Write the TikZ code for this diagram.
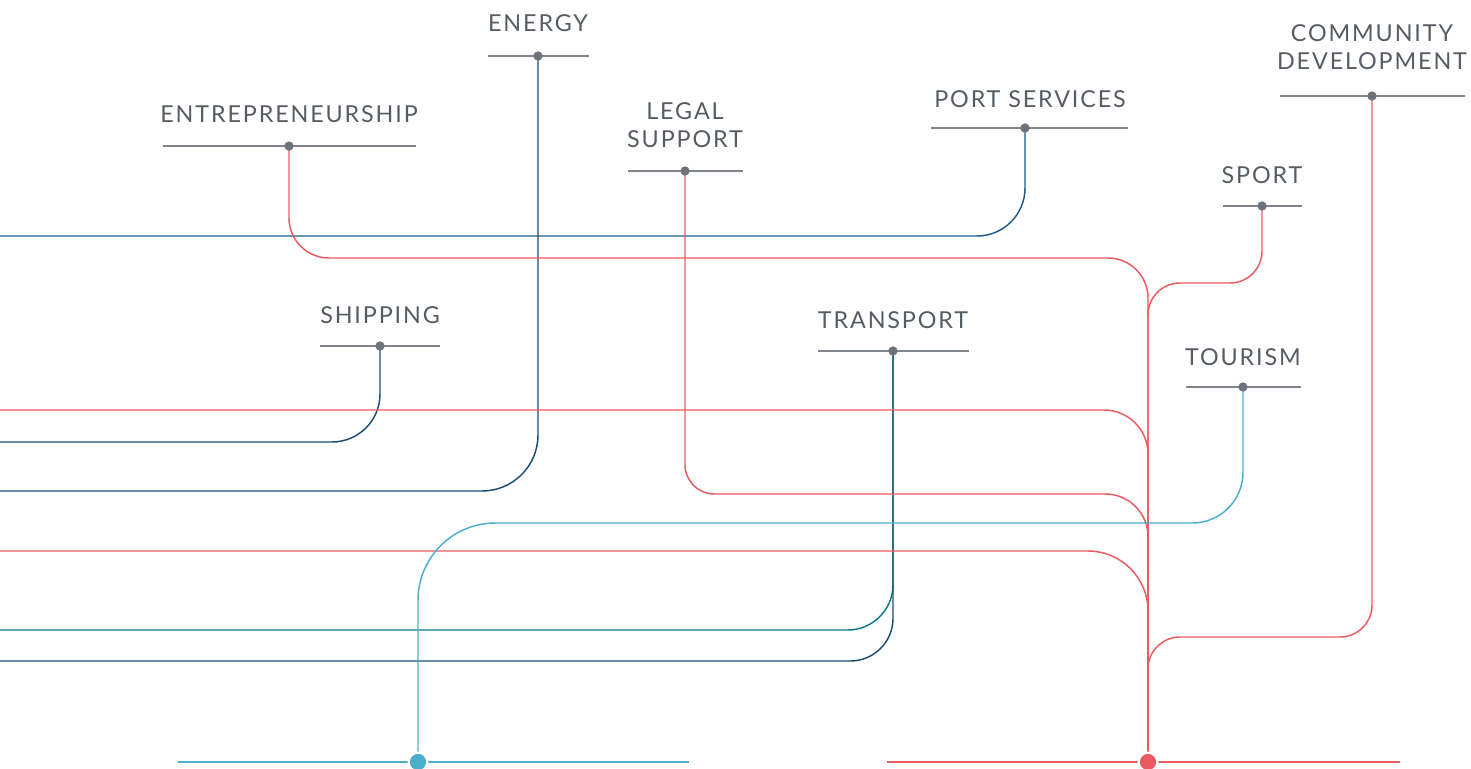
\documentclass[tikz,border=0pt]{standalone}
\usepackage{fontspec}
\setmainfont{Lato}[LetterSpace=8]
\definecolor{cred}{HTML}{EC5A61}
\definecolor{cnavy}{HTML}{1B4D75}
\definecolor{cblue}{HTML}{1C5C8C}
\definecolor{cteal}{HTML}{0F7B8F}
\definecolor{clight}{HTML}{4BAFCB}
\definecolor{ctext}{HTML}{575C64}
\definecolor{cgrey}{HTML}{80858C}
\definecolor{cdot}{HTML}{6C737B}
\begin{document}
\begin{tikzpicture}[x=0.75pt,y=-0.75pt,
  lbl/.style={anchor=south,inner sep=0pt,font=\fontsize{17.5}{21}\selectfont,text=ctext,align=center},
  uline/.style={draw=cgrey,line width=0.8pt},
  sdot/.style={circle,fill=cdot,inner sep=0pt,minimum size=7pt},
  bdot/.style={circle,draw=white,line width=1.6pt,inner sep=0pt,minimum size=14pt},
  conn/.style={line width=1.1pt}]
\useasboundingbox (0,0) rectangle (1471,768);
% labels
\node[lbl] (entre) at (289,123) {ENTREPRENEURSHIP};
\node[lbl] (energy) at (538,32) {ENERGY};
\node[lbl] (legal) at (685,148) {LEGAL\\SUPPORT};
\node[lbl] (port) at (1030,108) {PORT SERVICES};
\node[lbl] (comm) at (1372,70) {COMMUNITY\\DEVELOPMENT};
\node[lbl] (sport) at (1262,184) {SPORT};
\node[lbl] (ship) at (380,324) {SHIPPING};
\node[lbl] (trans) at (893,329) {TRANSPORT};
\node[lbl] (tour) at (1243,366) {TOURISM};
% dot coordinates
\coordinate (dEntre) at (289,146);
\coordinate (dEnergy) at (538,56);
\coordinate (dLegal) at (685,171);
\coordinate (dPort) at (1025,128);
\coordinate (dComm) at (1372,96);
\coordinate (dSport) at (1262,206);
\coordinate (dShip) at (380,346);
\coordinate (dTrans) at (893,351);
\coordinate (dTour) at (1243,387);
\coordinate (bRed) at (1148,762);
\coordinate (bBlue) at (418,762);
% left ends
\coordinate (lPort) at (0,236);
\coordinate (lRed1) at (0,410);
\coordinate (lShip) at (0,442);
\coordinate (lEnergy) at (0,491);
\coordinate (lRed2) at (0,551);
\coordinate (lTeal) at (0,630);
\coordinate (lNavy) at (0,661);
% underlines
\draw[uline] (163,146) -- (416,146);
\draw[uline] (488,56) -- (589,56);
\draw[uline] (628,171) -- (743,171);
\draw[uline] (931,128) -- (1128,128);
\draw[uline] (1280,96) -- (1465,96);
\draw[uline] (1223,206) -- (1302,206);
\draw[uline] (320,346) -- (440,346);
\draw[uline] (818,351) -- (969,351);
\draw[uline] (1186,387) -- (1301,387);
\draw[conn,clight] (178,762) -- (689,762);
\draw[conn,cred] (887,762) -- (1400,762);
% connectors
\draw[conn,cblue,rounded corners=36pt] (dPort) -- (dPort |- lPort) -- (lPort);
\draw[conn,cnavy,rounded corners=42pt] (dEnergy) -- (dEnergy |- lEnergy) -- (lEnergy);
\draw[conn,cnavy,rounded corners=36pt] (dShip) -- (dShip |- lShip) -- (lShip);
\draw[conn,cteal,rounded corners=34pt] (dTrans) -- (dTrans |- lTeal) -- (lTeal);
\draw[conn,cnavy,rounded corners=32pt] (dTrans) -- (dTrans |- lNavy) -- (lNavy);
\draw[conn,cred,rounded corners=30pt] (dEntre) -- (dEntre |- 0,258) -- (bRed |- 0,258) -- (bRed);
\draw[conn,cred] (dLegal) [rounded corners=22pt] -- (dLegal |- 0,494) [rounded corners=32pt] -- (bRed |- 0,494) -- (bRed);
\draw[conn,cred,rounded corners=33pt] (lRed1) -- (bRed |- lRed1) -- (bRed);
\draw[conn,cred,rounded corners=45pt] (lRed2) -- (bRed |- lRed2) -- (bRed);
\draw[conn,cred,rounded corners=24pt] (dSport) -- (dSport |- 0,283) -- (bRed |- 0,283) -- (bRed);
\draw[conn,cred,rounded corners=24pt] (dComm) -- (dComm |- 0,637) -- (bRed |- 0,637) -- (bRed);
\draw[conn,clight] (dTour) [rounded corners=38pt] -- (dTour |- 0,523) [rounded corners=58pt] -- (bBlue |- 0,523) -- (bBlue);
% dots
\foreach \d in {dEntre,dEnergy,dLegal,dPort,dComm,dSport,dShip,dTrans,dTour}
  \node[sdot] at (\d) {};
\node[bdot,fill=cred] (redDot) at (bRed) {};
\node[bdot,fill=clight] (blueDot) at (bBlue) {};
\end{tikzpicture}
\end{document}
